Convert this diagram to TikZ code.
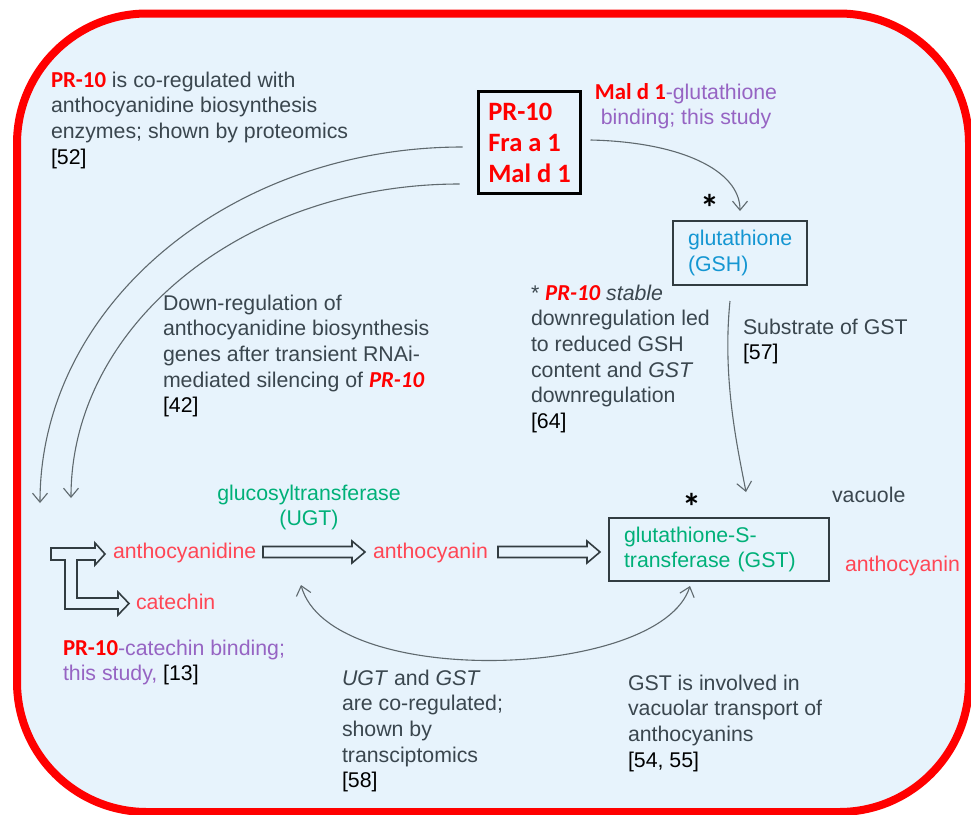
\documentclass[tikz,border=0pt]{standalone}
\usepackage{fontspec}
\setmainfont{Liberation Sans}
\newfontfamily\carl{Carlito}
\usetikzlibrary{arrows.meta,calc}
\definecolor{bgblue}{RGB}{231,243,252}
\definecolor{framered}{RGB}{255,0,0}
\definecolor{txt}{RGB}{58,70,78}
\definecolor{prred}{RGB}{255,0,0}
\definecolor{cred}{RGB}{255,70,85}
\definecolor{cgreen}{RGB}{0,176,120}
\definecolor{cblue}{RGB}{20,150,210}
\definecolor{cpurple}{RGB}{150,100,195}
\definecolor{arr}{RGB}{95,105,110}
\definecolor{boxline}{RGB}{50,60,65}
\newcommand{\prt}[1]{\textcolor{prred}{\carl\bfseries\fontsize{22.8}{25.7}\selectfont #1}}
\newcommand{\prti}[1]{\textcolor{prred}{\carl\bfseries\itshape\fontsize{22.8}{25.7}\selectfont #1}}
\newcommand{\astglyph}{\raisebox{-20.3pt}[7pt][7pt]{*}}
\begin{document}
\begin{tikzpicture}[x=1pt,y=-1pt,
  every node/.style={inner sep=0pt, outer sep=0pt},
  txtnode/.style={anchor=base west, align=left, text=txt, font=\fontsize{21.3}{25.7}\selectfont},
  conn/.style={draw=arr, line width=1.1pt, -{Straight Barb[length=9pt,width=15pt]}},
  hollow/.style={draw=boxline, line width=1.6pt, line join=miter},
  boxnode/.style={draw=boxline, line width=1.8pt, align=left, inner xsep=15pt, inner ysep=0pt, font=\fontsize{21.3}{25.7}\selectfont},
  astnode/.style={anchor=center, font=\carl\bfseries\fontsize{38}{40}\selectfont}
]
\useasboundingbox (0,0) rectangle (971,814);
% background frame
\draw[line width=8pt, draw=framered, fill=bgblue, rounded corners=130pt] (17,13.5) rectangle (969,812);

% main boxes
\node[draw=black, line width=3pt, minimum width=102pt, minimum height=102pt, align=left,
      font=\carl\bfseries\fontsize{26.5}{31}\selectfont, text=prred] (pr) at (529.5,142.5) {PR-10\\Fra a 1\\Mal d 1};
\node[boxnode, text width=104pt, minimum height=64pt, text=cblue] (gsh) at (740,253) {glutathione\\(GSH)};
\node[boxnode, text width=190pt, minimum height=63pt, text=cgreen] (gst) at (719,549.5) {glutathione-S-\\transferase (GST)};

% texts (anchor = baseline of the last line)
\node[txtnode] (t52) at (51,164.1) {\prt{PR-10} is co-regulated with\\anthocyanidine biosynthesis\\enzymes; shown by proteomics\\\textcolor{black}{[52]}};
\node[txtnode, anchor=base, align=center, text=cpurple] (tmal) at (686,124.7) {\prt{Mal d 1}-glutathione\\binding; this study};
\node[astnode] (ast1) at (710,201) {\astglyph};
\node[txtnode] (t64) at (531,428.5) {* \textit{\prti{PR-10} stable}\\downregulation led\\to reduced GSH\\content and \textit{GST}\\downregulation\\\textcolor{black}{[64]}};
\node[txtnode] (t57) at (743,359.7) {Substrate of GST\\\textcolor{black}{[57]}};
\node[txtnode] (t42) at (163,412.8) {Down-regulation of\\anthocyanidine biosynthesis\\genes after transient RNAi-\\mediated silencing of \prti{PR-10}\\\textcolor{black}{[42]}};
\node[txtnode, anchor=base, align=center, text=cgreen] (ugt) at (309,525.7) {glucosyltransferase\\(UGT)};
\node[txtnode, text=cred] (acd) at (113,558) {anthocyanidine};
\node[txtnode, text=cred] (acn) at (373,558) {anthocyanin};
\node[txtnode, text=cred] (cat) at (136,609) {catechin};
\node[txtnode, text=cpurple] (t13) at (63,680.7) {\prt{PR-10}-catechin binding;\\this study, \textcolor{black}{[13]}};
\node[txtnode] (vac) at (832,502) {vacuole};
\node[txtnode, text=cred] (acn2) at (845,571) {anthocyanin};
\node[astnode] (ast2) at (692,500) {\astglyph};
\node[txtnode] (t58) at (342,787.8) {\textit{UGT} and \textit{GST}\\are co-regulated;\\shown by\\transciptomics\\\textcolor{black}{[58]}};
\node[txtnode] (t54) at (628,767.1) {GST is involved in\\vacuolar transport of\\anthocyanins\\\textcolor{black}{[54, 55]}};

% hollow block arrows
\draw[hollow] (51,548) -- (95,548) -- (95,543) -- (105,554) -- (95,565) -- (95,560) -- (77,560) -- (77,598)
  -- (118,598) -- (118,592) -- (129,603.5) -- (118,615) -- (118,609) -- (65,609) -- (65,560) -- (51,560) -- cycle;
\draw[hollow] (263,546.5) -- (352,546.5) -- (352,541) -- (365,552) -- (352,563) -- (352,557.5) -- (263,557.5) -- cycle;
\draw[hollow] (498,546.5) -- (587,546.5) -- (587,541) -- (600,552) -- (587,563) -- (587,557.5) -- (498,557.5) -- cycle;

% connectors
\coordinate (e1) at (40,503);
\coordinate (e2) at (71,498);
\coordinate (ub) at (301,585);
\draw[conn] ($(pr.west)+(-16,4.5)$) .. controls (229,147) and (40,306) .. (e1);
\draw[conn] ($(pr.west)+(-19,41.5)$) .. controls (244,184) and (71,325) .. (e2);
\draw[conn] ($(pr.east)+(10,-2.5)$) .. controls (680,142) and (740,170) .. ($(gsh.north)+(0,-10)$);
\draw[conn] ($(gsh.south)+(-10,16)$) .. controls (722,380) and (738,450) .. ($(gst.north)+(27,-26)$);
\draw[conn, {Straight Barb[length=9pt,width=15pt]}-{Straight Barb[length=9pt,width=15pt]}] (ub) .. controls (330,690) and (660,680) .. ($(gst.south)+(-29,5)$);
\end{tikzpicture}
\end{document}
